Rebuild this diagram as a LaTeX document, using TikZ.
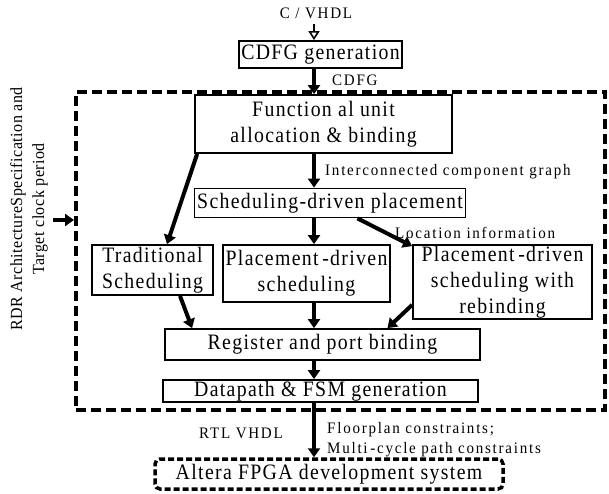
\documentclass[tikz,border=0pt]{standalone}
\usepackage{fontspec}
\setmainfont{Liberation Serif}
\usetikzlibrary{arrows.meta,calc}

\newcommand\boxfont{\fontsize{22}{26}\selectfont\addfontfeature{FakeStretch=0.9}\addfontfeature{LetterSpace=6}}
\newcommand\labfont{\fontsize{16}{20}\selectfont\addfontfeature{FakeStretch=0.94}\addfontfeature{LetterSpace=11}}
\newcommand\sidefont{\fontsize{17}{22}\selectfont\addfontfeature{FakeStretch=0.94}\addfontfeature{LetterSpace=3}}

\tikzset{
  stagebox/.style={draw, line width=1.8pt, inner sep=0pt, align=center, font=\boxfont},
  lab/.style={inner sep=0pt, font=\labfont},
  flow/.style={line width=4pt, -{Triangle[length=9pt,width=12pt]}},
  framebox/.style={draw, line width=4pt, dash pattern=on 10pt off 5pt, inner sep=0pt},
  toolbox/.style={draw, line width=3.5pt, dash pattern=on 6pt off 3pt, rounded corners=5pt,
    inner sep=0pt, font=\boxfont}
}

\begin{document}
\begin{tikzpicture}[x=1pt,y=-1pt]
\useasboundingbox (0,0) rectangle (609,493);

% enclosing dashed frame of the placement-aware flow
\node[framebox, minimum width=529pt, minimum height=318pt] (frame) at (340.5,251) {};

% vertical axis of the main flow
\coordinate (axis) at (314,0);

% input and first stage
\node[lab] (src) at (316,13) {C / VHDL};
\node[stagebox, minimum width=163pt, minimum height=27pt] (cdfg) at (320.5,54.5) {CDFG generation};

% stages inside the frame
\node[stagebox, minimum width=257pt, minimum height=58pt] (fu) at (323.5,124)
  {Function al unit\\allocation \& binding};
\node[stagebox, minimum width=271pt, minimum height=29pt] (sdp) at (330,203)
  {Scheduling-driven placement};
\node[stagebox, minimum width=121pt, minimum height=50pt] (trad) at (152.5,270)
  {Traditional\\Scheduling};
\node[stagebox, minimum width=167pt, minimum height=57pt] (pds) at (306.5,273.5)
  {Placement\,-driven\\scheduling};
\node[stagebox, minimum width=179pt, minimum height=74pt] (pdsr) at (502.5,282)
  {Placement\,-driven\\scheduling with\\rebinding};
\node[stagebox, minimum width=315pt, minimum height=31pt] (reg) at (322.5,344.5)
  {Register and port binding};
\node[stagebox, minimum width=315pt, minimum height=22pt] (dp) at (320.5,391)
  {Datapath \& FSM generation};

% target tool
\node[toolbox, minimum width=348pt, minimum height=30pt] (altera) at (329,474)
  {Altera FPGA development system};

% side input
\node[rotate=90, align=center, inner sep=0pt, font=\sidefont] (spec) at (29,209)
  {RDR ArchitectureSpecification and\\Target clock period};
\coordinate (specin) at (53,220);

% edge labels
\node[lab, anchor=west] (lcdfg) at (332,80) {CDFG};
\node[lab, anchor=west] (licg) at (325,172) {Interconnected component graph};
\node[lab, anchor=west] (lloc) at (395,233) {Location information};
\node[lab] (lrtl) at (241,433) {RTL VHDL};
\node[lab, anchor=west, align=left] (lcons) at (327,440)
  {Floorplan constraints;\\Multi\,-cycle path constraints};

% connectors
\draw[line width=1.6pt, -{Triangle[open,length=9pt,width=11pt]}]
  ([yshift=-11pt]src.center -| axis) -- (cdfg.north -| axis);
\draw[flow] (cdfg.south -| axis) -- (fu.north -| axis);
\draw[flow] (fu.south -| axis) -- (sdp.north -| axis);
\draw[flow] ([xshift=3pt]fu.south west) -- ([xshift=14.5pt]trad.north);
\draw[flow] (sdp.south -| axis) -- (pds.north -| axis);
\draw[flow] ([xshift=27.5pt]sdp.south) -- ([yshift=-2pt]pdsr.north west);
\draw[flow] ([xshift=27.5pt]trad.south) -- ([xshift=28pt]reg.north west);
\draw[flow] (pds.south -| axis) -- (reg.north -| axis);
\draw[flow] ([yshift=15pt]pdsr.south west) -- ([xshift=65pt]reg.north);
\draw[flow] (reg.south -| axis) -- (dp.north -| axis);
\draw[flow] (dp.south -| axis) -- (altera.north -| axis);
\draw[flow] (specin) -- (specin -| frame.west);
\end{tikzpicture}
\end{document}
